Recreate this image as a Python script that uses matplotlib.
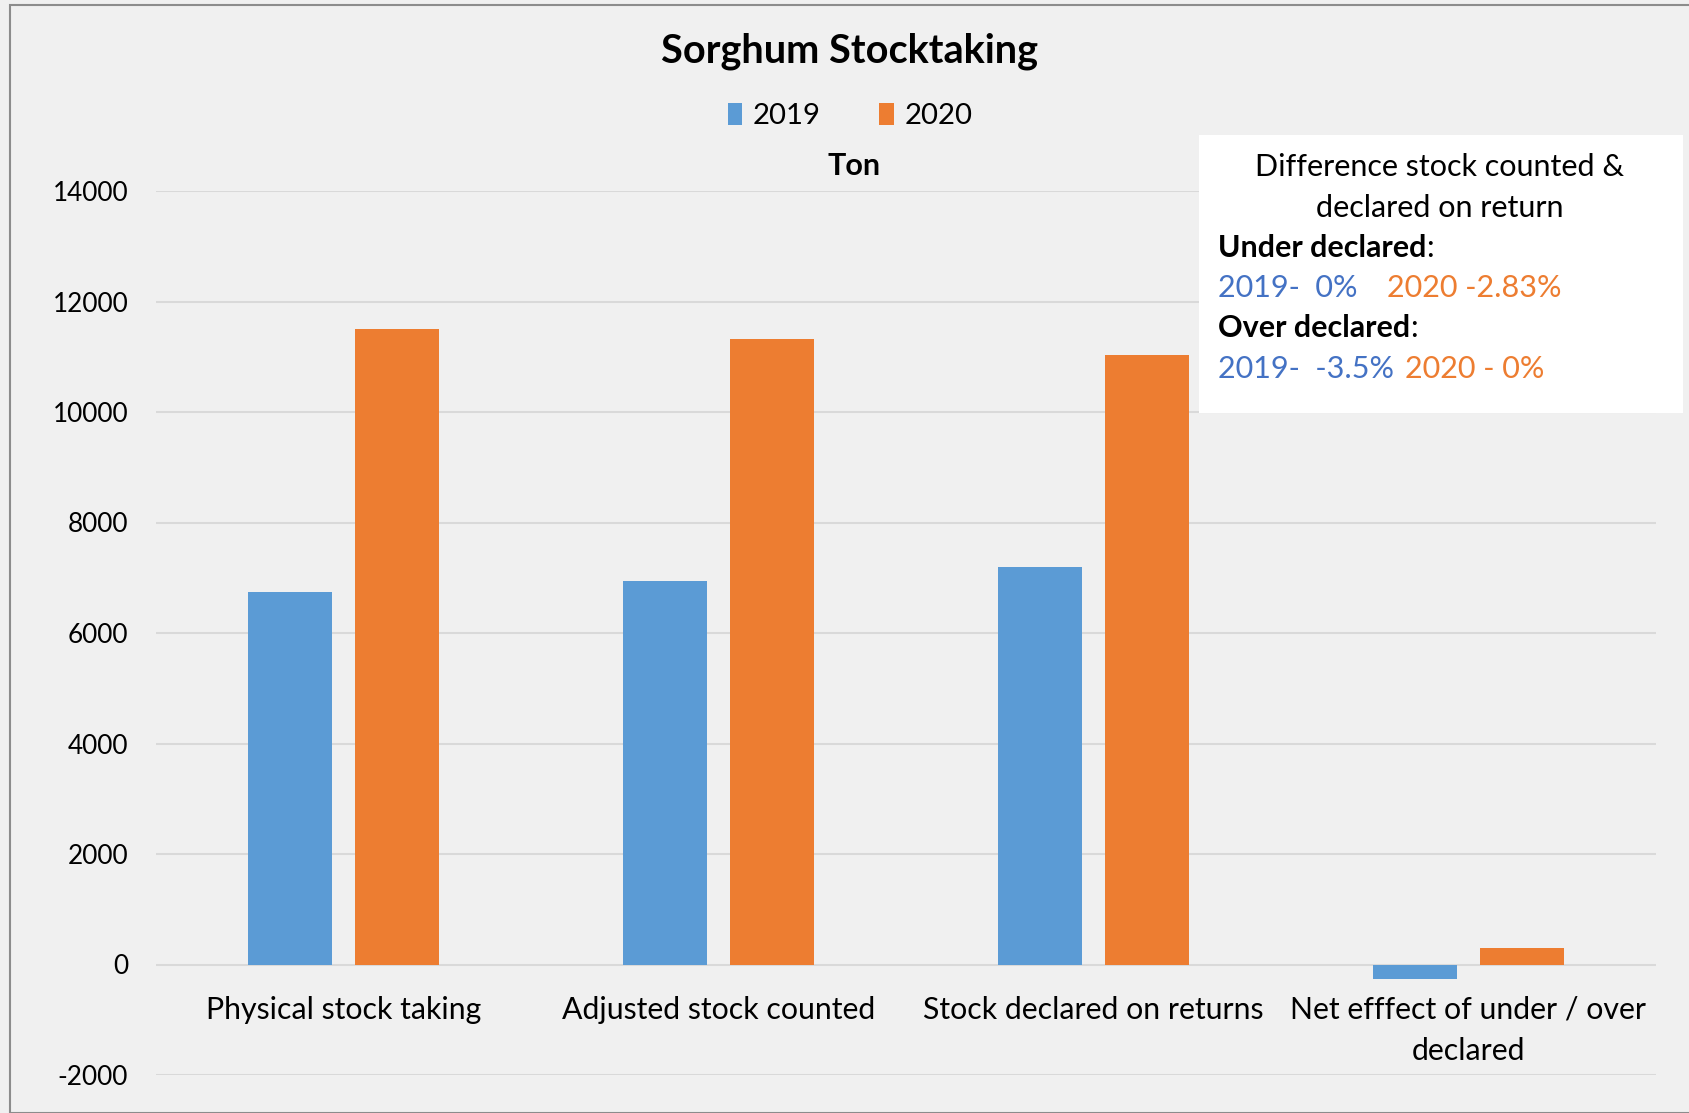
import matplotlib
matplotlib.use("Agg")
import matplotlib.pyplot as plt
from matplotlib.patches import Rectangle
from matplotlib.text import Annotation

plt.rcParams['font.family'] = ['Lato', 'DejaVu Sans']

# data (tons)
categories = ["Physical stock taking", "Adjusted stock counted",
              "Stock declared on returns", "Net efffect of under / over\ndeclared"]
years = ["2019", "2020"]
values_2019 = [6750, 6950, 7200, -270]
values_2020 = [11500, 11330, 11040, 300]
y_ticks = [-2000, 0, 2000, 4000, 6000, 8000, 10000, 12000, 14000]

blue = "#5B9BD5"
orange = "#ED7D31"
bg = "#F0F0F0"
grid_col = "#D9D9D9"

W, H = 1690, 1113
fig = plt.figure(figsize=(W / 100, H / 100), dpi=100)
fig.patch.set_facecolor(bg)

def fx(px):
    return px / W

def fy(py):
    return 1 - py / H

# outer chart border
fig.patches.append(Rectangle((fx(10), 0), 1.2, fy(5), transform=fig.transFigure,
                             fill=False, edgecolor="#8C8C8C", linewidth=1.5))

ax = fig.add_axes([fx(156), fy(1075), fx(1656) - fx(156), fy(191) - fy(1075)])
ax.set_facecolor(bg)

x = list(range(len(categories)))
off = 0.142
w = 0.224
ax.bar([i - off for i in x], values_2019, width=w, color=blue, label=years[0], zorder=3)
ax.bar([i + off for i in x], values_2020, width=w, color=orange, label=years[1], zorder=3)

ax.set_xlim(-0.5, 3.5)
ax.set_ylim(-2000, 14000)
ax.set_yticks(y_ticks)
ax.set_yticklabels([str(t) for t in y_ticks])
ax.tick_params(axis='y', length=0, pad=20, labelsize=18.8, colors="#000000")
ax.set_xticks([])
ax.grid(axis='y', color=grid_col, linewidth=1.5, zorder=0)
for s in ax.spines.values():
    s.set_visible(False)

# category labels sit just under the zero line
for i, c in enumerate(categories):
    ax.text(i, -570, c, ha='center', va='top', fontsize=21.8, linespacing=1.55)

# title, legend, axis title
fig.text(fx(850), fy(51), "Sorghum Stocktaking", ha='center', va='center',
         fontsize=28.5, fontweight='bold')
fig.legend(loc='center', bbox_to_anchor=(fx(850), fy(116)), ncol=2, frameon=False,
           fontsize=21.2, handlelength=0.5, handleheight=0.75, columnspacing=2.0,
           handletextpad=0.35)
fig.text(fx(854), fy(166), "Ton", ha='center', va='center', fontsize=22,
         fontweight='bold')

# annotation box
fig.patches.append(Rectangle((fx(1199), fy(413)), fx(1683) - fx(1199), fy(135) - fy(413),
                             transform=fig.transFigure, facecolor="white",
                             edgecolor="none", zorder=5))
box_fs = 22
dark_blue = "#4472C4"
fig.text(fx(1440), fy(167), "Difference stock counted &", ha='center', va='center',
         fontsize=box_fs, zorder=6)
fig.text(fx(1440), fy(208), "declared on return", ha='center', va='center',
         fontsize=box_fs, zorder=6)
t1 = fig.text(fx(1218), fy(248), "Under declared", ha='left', va='center',
              fontsize=box_fs, fontweight='bold', zorder=6)
fig.text(fx(1218), fy(288), "2019-  0%", ha='left', va='center',
         fontsize=box_fs, color=dark_blue, zorder=6)
fig.text(fx(1387), fy(288), "2020 -2.83%", ha='left', va='center',
         fontsize=box_fs, color=orange, zorder=6)
t2 = fig.text(fx(1218), fy(328), "Over declared", ha='left', va='center',
              fontsize=box_fs, fontweight='bold', zorder=6)
fig.text(fx(1218), fy(369), "2019-  -3.5%", ha='left', va='center',
         fontsize=box_fs, color=dark_blue, zorder=6)
fig.text(fx(1405), fy(369), "2020 - 0%", ha='left', va='center',
         fontsize=box_fs, color=orange, zorder=6)
# non-bold colons after the bold headings
for t in (t1, t2):
    colon = Annotation(":", xy=(1, 0.5), xycoords=t, ha='left', va='center',
                       fontsize=box_fs, annotation_clip=False)
    colon.set_zorder(7)
    fig.add_artist(colon)

fig.savefig("out.png", dpi=100, facecolor=bg)
